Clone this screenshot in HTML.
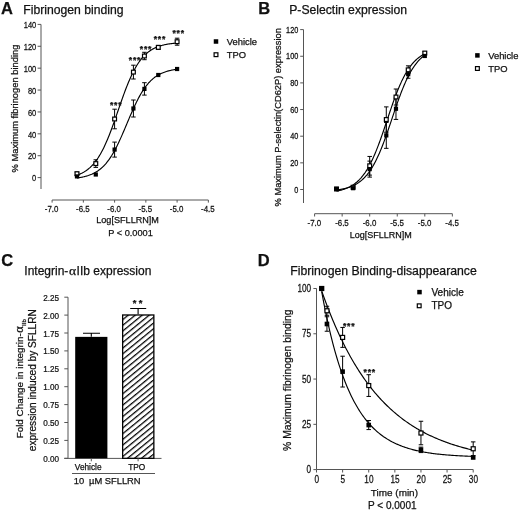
<!DOCTYPE html>
<html><head><meta charset="utf-8"><style>
html,body{margin:0;padding:0;background:#fff;}
svg{display:block;filter:blur(0.4px);}
text{font-family:"Liberation Sans",sans-serif;fill:#111;stroke:#111;stroke-width:0.25px;}
</style></head><body>
<svg width="520" height="513" viewBox="0 0 520 513">
<rect width="520" height="513" fill="#fff"/>
<text x="1.00" y="14.20" font-size="16.5" text-anchor="start" font-weight="bold" >A</text>
<text x="23.30" y="13.80" font-size="12.2" text-anchor="start" font-weight="normal" >Fibrinogen binding</text>
<line x1="41.00" y1="24.40" x2="41.00" y2="189.00" stroke="#555" stroke-width="1" fill="none"/>
<line x1="37.60" y1="177.60" x2="41.00" y2="177.60" stroke="#555" stroke-width="1" fill="none"/>
<text transform="translate(36.30,181.35) scale(0.82,1)" font-size="9.2" text-anchor="end">0</text>
<line x1="37.60" y1="155.71" x2="41.00" y2="155.71" stroke="#555" stroke-width="1" fill="none"/>
<text transform="translate(36.30,159.46) scale(0.82,1)" font-size="9.2" text-anchor="end">20</text>
<line x1="37.60" y1="133.83" x2="41.00" y2="133.83" stroke="#555" stroke-width="1" fill="none"/>
<text transform="translate(36.30,137.58) scale(0.82,1)" font-size="9.2" text-anchor="end">40</text>
<line x1="37.60" y1="111.94" x2="41.00" y2="111.94" stroke="#555" stroke-width="1" fill="none"/>
<text transform="translate(36.30,115.69) scale(0.82,1)" font-size="9.2" text-anchor="end">60</text>
<line x1="37.60" y1="90.06" x2="41.00" y2="90.06" stroke="#555" stroke-width="1" fill="none"/>
<text transform="translate(36.30,93.81) scale(0.82,1)" font-size="9.2" text-anchor="end">80</text>
<line x1="37.60" y1="68.17" x2="41.00" y2="68.17" stroke="#555" stroke-width="1" fill="none"/>
<text transform="translate(36.30,71.92) scale(0.82,1)" font-size="9.2" text-anchor="end">100</text>
<line x1="37.60" y1="46.28" x2="41.00" y2="46.28" stroke="#555" stroke-width="1" fill="none"/>
<text transform="translate(36.30,50.03) scale(0.82,1)" font-size="9.2" text-anchor="end">120</text>
<line x1="37.60" y1="24.40" x2="41.00" y2="24.40" stroke="#555" stroke-width="1" fill="none"/>
<text transform="translate(36.30,28.15) scale(0.82,1)" font-size="9.2" text-anchor="end">140</text>
<line x1="52.10" y1="200.00" x2="208.35" y2="200.00" stroke="#555" stroke-width="1" fill="none"/>
<line x1="52.10" y1="200.00" x2="52.10" y2="202.60" stroke="#555" stroke-width="1" fill="none"/>
<text transform="translate(51.60,211.80) scale(0.86,1)" font-size="9.2" text-anchor="middle">-7.0</text>
<line x1="83.35" y1="200.00" x2="83.35" y2="202.60" stroke="#555" stroke-width="1" fill="none"/>
<text transform="translate(82.85,211.80) scale(0.86,1)" font-size="9.2" text-anchor="middle">-6.5</text>
<line x1="114.60" y1="200.00" x2="114.60" y2="202.60" stroke="#555" stroke-width="1" fill="none"/>
<text transform="translate(114.10,211.80) scale(0.86,1)" font-size="9.2" text-anchor="middle">-6.0</text>
<line x1="145.85" y1="200.00" x2="145.85" y2="202.60" stroke="#555" stroke-width="1" fill="none"/>
<text transform="translate(145.35,211.80) scale(0.86,1)" font-size="9.2" text-anchor="middle">-5.5</text>
<line x1="177.10" y1="200.00" x2="177.10" y2="202.60" stroke="#555" stroke-width="1" fill="none"/>
<text transform="translate(176.60,211.80) scale(0.86,1)" font-size="9.2" text-anchor="middle">-5.0</text>
<line x1="208.35" y1="200.00" x2="208.35" y2="202.60" stroke="#555" stroke-width="1" fill="none"/>
<text transform="translate(207.85,211.80) scale(0.86,1)" font-size="9.2" text-anchor="middle">-4.5</text>
<text x="127.60" y="223.20" font-size="9.1" text-anchor="middle" font-weight="normal" >Log[SFLLRN]M</text>
<text x="130.50" y="236.30" font-size="9.2" text-anchor="middle" font-weight="normal" >P &lt; 0.0001</text>
<text transform="translate(18.10,108.50) rotate(-90)" font-size="9.35" text-anchor="middle">% Maximum fibrinogen binding</text>
<polyline points="76.97,177.97 77.64,177.88 78.31,177.78 78.98,177.68 79.64,177.57 80.31,177.46 80.98,177.34 81.65,177.22 82.31,177.08 82.98,176.94 83.65,176.80 84.32,176.64 84.98,176.48 85.65,176.30 86.32,176.12 86.99,175.93 87.66,175.72 88.32,175.51 88.99,175.28 89.66,175.04 90.33,174.79 90.99,174.53 91.66,174.25 92.33,173.95 92.99,173.64 93.66,173.32 94.33,172.98 95.00,172.62 95.66,172.24 96.33,171.84 97.00,171.42 97.67,170.99 98.33,170.53 99.00,170.04 99.67,169.54 100.34,169.01 101.00,168.45 101.67,167.87 102.34,167.27 103.01,166.63 103.67,165.97 104.34,165.28 105.01,164.55 105.68,163.80 106.34,163.02 107.01,162.20 107.68,161.35 108.35,160.47 109.01,159.56 109.68,158.61 110.35,157.62 111.02,156.60 111.69,155.55 112.35,154.46 113.02,153.34 113.69,152.18 114.36,150.99 115.02,149.77 115.69,148.51 116.36,147.22 117.03,145.90 117.69,144.55 118.36,143.17 119.03,141.76 119.69,140.32 120.36,138.87 121.03,137.38 121.70,135.88 122.36,134.36 123.03,132.82 123.70,131.27 124.37,129.71 125.03,128.13 125.70,126.55 126.37,124.97 127.04,123.38 127.70,121.79 128.37,120.21 129.04,118.63 129.71,117.06 130.37,115.50 131.04,113.95 131.71,112.42 132.38,110.90 133.04,109.41 133.71,107.93 134.38,106.48 135.05,105.06 135.72,103.66 136.38,102.29 137.05,100.95 137.72,99.64 138.38,98.36 139.05,97.11 139.72,95.90 140.39,94.72 141.06,93.57 141.72,92.46 142.39,91.38 143.06,90.34 143.73,89.34 144.39,88.36 145.06,87.43 145.73,86.52 146.40,85.65 147.06,84.81 147.73,84.01 148.40,83.23 149.06,82.49 149.73,81.78 150.40,81.10 151.07,80.44 151.74,79.82 152.40,79.22 153.07,78.65 153.74,78.10 154.40,77.58 155.07,77.08 155.74,76.61 156.41,76.16 157.07,75.73 157.74,75.32 158.41,74.93 159.08,74.55 159.75,74.20 160.41,73.86 161.08,73.54 161.75,73.24 162.41,72.95 163.08,72.68 163.75,72.42 164.42,72.17 165.09,71.93 165.75,71.71 166.42,71.50 167.09,71.30 167.75,71.11 168.42,70.93 169.09,70.76 169.76,70.60 170.43,70.45 171.09,70.30 171.76,70.16 172.43,70.03 173.10,69.91 173.76,69.79 174.43,69.68 175.10,69.58 175.77,69.48 176.43,69.39 177.10,69.30" stroke="#000" stroke-width="1.15" fill="none"/>
<polyline points="76.97,175.14 77.64,174.91 78.31,174.66 78.98,174.41 79.64,174.13 80.31,173.85 80.98,173.54 81.65,173.23 82.31,172.89 82.98,172.54 83.65,172.17 84.32,171.78 84.98,171.37 85.65,170.94 86.32,170.48 86.99,170.01 87.66,169.51 88.32,168.98 88.99,168.43 89.66,167.86 90.33,167.25 90.99,166.62 91.66,165.96 92.33,165.26 92.99,164.54 93.66,163.78 94.33,162.98 95.00,162.16 95.66,161.29 96.33,160.39 97.00,159.46 97.67,158.48 98.33,157.47 99.00,156.41 99.67,155.32 100.34,154.18 101.00,153.01 101.67,151.79 102.34,150.53 103.01,149.22 103.67,147.88 104.34,146.49 105.01,145.07 105.68,143.60 106.34,142.09 107.01,140.54 107.68,138.96 108.35,137.33 109.01,135.67 109.68,133.98 110.35,132.25 111.02,130.49 111.69,128.71 112.35,126.90 113.02,125.06 113.69,123.20 114.36,121.32 115.02,119.43 115.69,117.52 116.36,115.60 117.03,113.67 117.69,111.74 118.36,109.81 119.03,107.88 119.69,105.95 120.36,104.03 121.03,102.12 121.70,100.22 122.36,98.34 123.03,96.48 123.70,94.64 124.37,92.83 125.03,91.04 125.70,89.28 126.37,87.55 127.04,85.85 127.70,84.19 128.37,82.57 129.04,80.98 129.71,79.42 130.37,77.91 131.04,76.44 131.71,75.01 132.38,73.62 133.04,72.27 133.71,70.97 134.38,69.70 135.05,68.48 135.72,67.30 136.38,66.16 137.05,65.07 137.72,64.01 138.38,62.99 139.05,62.01 139.72,61.07 140.39,60.17 141.06,59.30 141.72,58.47 142.39,57.68 143.06,56.92 143.73,56.19 144.39,55.49 145.06,54.82 145.73,54.19 146.40,53.58 147.06,53.00 147.73,52.45 148.40,51.92 149.06,51.42 149.73,50.94 150.40,50.49 151.07,50.06 151.74,49.64 152.40,49.25 153.07,48.88 153.74,48.53 154.40,48.19 155.07,47.87 155.74,47.57 156.41,47.28 157.07,47.01 157.74,46.75 158.41,46.50 159.08,46.27 159.75,46.04 160.41,45.83 161.08,45.64 161.75,45.45 162.41,45.27 163.08,45.10 163.75,44.94 164.42,44.79 165.09,44.64 165.75,44.50 166.42,44.37 167.09,44.25 167.75,44.14 168.42,44.03 169.09,43.92 169.76,43.82 170.43,43.73 171.09,43.64 171.76,43.56 172.43,43.48 173.10,43.41 173.76,43.34 174.43,43.27 175.10,43.21 175.77,43.15 176.43,43.09 177.10,43.04" stroke="#000" stroke-width="1.15" fill="none"/>
<path d="M114.60 142.10V157.10M112.35 142.10H116.85M112.35 157.10H116.85" stroke="#000" stroke-width="1" fill="none"/>
<path d="M133.41 100.00V117.00M131.16 100.00H135.66M131.16 117.00H135.66" stroke="#000" stroke-width="1" fill="none"/>
<path d="M144.41 82.70V95.10M142.16 82.70H146.66M142.16 95.10H146.66" stroke="#000" stroke-width="1" fill="none"/>
<path d="M76.97 172.10V175.30M74.72 172.10H79.22M74.72 175.30H79.22" stroke="#000" stroke-width="1" fill="none"/>
<path d="M95.79 159.80V167.40M93.54 159.80H98.04M93.54 167.40H98.04" stroke="#000" stroke-width="1" fill="none"/>
<path d="M114.60 109.20V128.80M112.35 109.20H116.85M112.35 128.80H116.85" stroke="#000" stroke-width="1" fill="none"/>
<path d="M133.41 65.20V79.00M131.16 65.20H135.66M131.16 79.00H135.66" stroke="#000" stroke-width="1" fill="none"/>
<path d="M144.41 52.30V59.70M142.16 52.30H146.66M142.16 59.70H146.66" stroke="#000" stroke-width="1" fill="none"/>
<path d="M158.29 45.40V49.40M156.04 45.40H160.54M156.04 49.40H160.54" stroke="#000" stroke-width="1" fill="none"/>
<path d="M177.10 38.20V45.20M174.85 38.20H179.35M174.85 45.20H179.35" stroke="#000" stroke-width="1" fill="none"/>
<rect x="75.07" y="171.80" width="3.80" height="3.80" fill="#fff" stroke="#000" stroke-width="1.2"/>
<rect x="93.89" y="161.70" width="3.80" height="3.80" fill="#fff" stroke="#000" stroke-width="1.2"/>
<rect x="112.70" y="117.10" width="3.80" height="3.80" fill="#fff" stroke="#000" stroke-width="1.2"/>
<rect x="131.51" y="70.20" width="3.80" height="3.80" fill="#fff" stroke="#000" stroke-width="1.2"/>
<rect x="142.51" y="54.10" width="3.80" height="3.80" fill="#fff" stroke="#000" stroke-width="1.2"/>
<rect x="156.39" y="45.50" width="3.80" height="3.80" fill="#fff" stroke="#000" stroke-width="1.2"/>
<rect x="175.20" y="39.80" width="3.80" height="3.80" fill="#fff" stroke="#000" stroke-width="1.2"/>
<rect x="74.87" y="174.30" width="4.2" height="4.2" fill="#000"/>
<rect x="93.69" y="172.40" width="4.2" height="4.2" fill="#000"/>
<rect x="112.50" y="147.50" width="4.2" height="4.2" fill="#000"/>
<rect x="131.31" y="106.40" width="4.2" height="4.2" fill="#000"/>
<rect x="142.31" y="86.80" width="4.2" height="4.2" fill="#000"/>
<rect x="156.19" y="72.90" width="4.2" height="4.2" fill="#000"/>
<rect x="175.00" y="66.90" width="4.2" height="4.2" fill="#000"/>
<text x="116.20" y="108.40" font-size="8.6" text-anchor="middle" font-weight="bold" letter-spacing="0.8">***</text>
<text x="135.01" y="62.60" font-size="8.6" text-anchor="middle" font-weight="bold" letter-spacing="0.8">***</text>
<text x="146.01" y="51.70" font-size="8.6" text-anchor="middle" font-weight="bold" letter-spacing="0.8">***</text>
<text x="159.89" y="42.10" font-size="8.6" text-anchor="middle" font-weight="bold" letter-spacing="0.8">***</text>
<text x="178.70" y="35.60" font-size="8.6" text-anchor="middle" font-weight="bold" letter-spacing="0.8">***</text>
<rect x="213.75" y="39.25" width="4.5" height="4.5" fill="#000"/>
<rect x="214.10" y="52.80" width="3.80" height="3.80" fill="#fff" stroke="#000" stroke-width="1.2"/>
<text x="226.80" y="45.40" font-size="9.4" text-anchor="start" font-weight="normal" >Vehicle</text>
<text x="226.80" y="57.80" font-size="9.4" text-anchor="start" font-weight="normal" >TPO</text>
<text x="258.20" y="14.40" font-size="16.5" text-anchor="start" font-weight="bold" >B</text>
<text x="289.20" y="13.80" font-size="12.2" text-anchor="start" font-weight="normal" >P-Selectin expression</text>
<line x1="303.50" y1="29.60" x2="303.50" y2="203.00" stroke="#555" stroke-width="1" fill="none"/>
<line x1="300.20" y1="189.50" x2="303.50" y2="189.50" stroke="#555" stroke-width="1" fill="none"/>
<text transform="translate(298.30,192.60) scale(0.87,1)" font-size="8.4" text-anchor="end">0</text>
<line x1="300.20" y1="162.85" x2="303.50" y2="162.85" stroke="#555" stroke-width="1" fill="none"/>
<text transform="translate(298.30,165.95) scale(0.87,1)" font-size="8.4" text-anchor="end">20</text>
<line x1="300.20" y1="136.20" x2="303.50" y2="136.20" stroke="#555" stroke-width="1" fill="none"/>
<text transform="translate(298.30,139.30) scale(0.87,1)" font-size="8.4" text-anchor="end">40</text>
<line x1="300.20" y1="109.55" x2="303.50" y2="109.55" stroke="#555" stroke-width="1" fill="none"/>
<text transform="translate(298.30,112.65) scale(0.87,1)" font-size="8.4" text-anchor="end">60</text>
<line x1="300.20" y1="82.90" x2="303.50" y2="82.90" stroke="#555" stroke-width="1" fill="none"/>
<text transform="translate(298.30,86.00) scale(0.87,1)" font-size="8.4" text-anchor="end">80</text>
<line x1="300.20" y1="56.25" x2="303.50" y2="56.25" stroke="#555" stroke-width="1" fill="none"/>
<text transform="translate(298.30,59.35) scale(0.87,1)" font-size="8.4" text-anchor="end">100</text>
<line x1="300.20" y1="29.60" x2="303.50" y2="29.60" stroke="#555" stroke-width="1" fill="none"/>
<text transform="translate(298.30,32.70) scale(0.87,1)" font-size="8.4" text-anchor="end">120</text>
<line x1="314.60" y1="213.70" x2="452.35" y2="213.70" stroke="#555" stroke-width="1" fill="none"/>
<line x1="314.60" y1="213.70" x2="314.60" y2="216.50" stroke="#555" stroke-width="1" fill="none"/>
<text transform="translate(314.40,226.30) scale(0.86,1)" font-size="9.2" text-anchor="middle">-7.0</text>
<line x1="342.15" y1="213.70" x2="342.15" y2="216.50" stroke="#555" stroke-width="1" fill="none"/>
<text transform="translate(341.95,226.30) scale(0.86,1)" font-size="9.2" text-anchor="middle">-6.5</text>
<line x1="369.70" y1="213.70" x2="369.70" y2="216.50" stroke="#555" stroke-width="1" fill="none"/>
<text transform="translate(369.50,226.30) scale(0.86,1)" font-size="9.2" text-anchor="middle">-6.0</text>
<line x1="397.25" y1="213.70" x2="397.25" y2="216.50" stroke="#555" stroke-width="1" fill="none"/>
<text transform="translate(397.05,226.30) scale(0.86,1)" font-size="9.2" text-anchor="middle">-5.5</text>
<line x1="424.80" y1="213.70" x2="424.80" y2="216.50" stroke="#555" stroke-width="1" fill="none"/>
<text transform="translate(424.60,226.30) scale(0.86,1)" font-size="9.2" text-anchor="middle">-5.0</text>
<line x1="452.35" y1="213.70" x2="452.35" y2="216.50" stroke="#555" stroke-width="1" fill="none"/>
<text transform="translate(452.15,226.30) scale(0.86,1)" font-size="9.2" text-anchor="middle">-4.5</text>
<text x="380.80" y="237.70" font-size="9" text-anchor="middle" font-weight="normal" >Log[SFLLRN]M</text>
<text transform="translate(281.10,117.30) rotate(-90)" font-size="9.3" text-anchor="middle">% Maximum P-selectin(CD62P) expression</text>
<polyline points="336.53,190.00 337.12,189.92 337.71,189.84 338.30,189.76 338.88,189.67 339.47,189.58 340.06,189.48 340.65,189.38 341.24,189.28 341.83,189.17 342.41,189.05 343.00,188.93 343.59,188.80 344.18,188.67 344.77,188.53 345.36,188.38 345.95,188.23 346.53,188.07 347.12,187.90 347.71,187.73 348.30,187.54 348.89,187.35 349.48,187.15 350.06,186.94 350.65,186.72 351.24,186.49 351.83,186.25 352.42,186.00 353.01,185.74 353.60,185.46 354.18,185.18 354.77,184.88 355.36,184.56 355.95,184.24 356.54,183.90 357.13,183.54 357.71,183.17 358.30,182.78 358.89,182.38 359.48,181.95 360.07,181.51 360.66,181.05 361.25,180.58 361.83,180.08 362.42,179.56 363.01,179.02 363.60,178.46 364.19,177.88 364.78,177.27 365.36,176.64 365.95,175.98 366.54,175.30 367.13,174.60 367.72,173.86 368.31,173.10 368.90,172.32 369.48,171.50 370.07,170.65 370.66,169.78 371.25,168.88 371.84,167.94 372.43,166.98 373.01,165.98 373.60,164.95 374.19,163.89 374.78,162.80 375.37,161.67 375.96,160.52 376.55,159.33 377.13,158.11 377.72,156.86 378.31,155.57 378.90,154.25 379.49,152.91 380.08,151.53 380.66,150.12 381.25,148.68 381.84,147.21 382.43,145.72 383.02,144.20 383.61,142.65 384.20,141.08 384.78,139.48 385.37,137.86 385.96,136.23 386.55,134.57 387.14,132.89 387.73,131.20 388.31,129.50 388.90,127.78 389.49,126.06 390.08,124.32 390.67,122.58 391.26,120.83 391.85,119.08 392.43,117.33 393.02,115.59 393.61,113.84 394.20,112.10 394.79,110.37 395.38,108.65 395.97,106.94 396.55,105.24 397.14,103.56 397.73,101.89 398.32,100.25 398.91,98.62 399.50,97.01 400.08,95.43 400.67,93.87 401.26,92.33 401.85,90.82 402.44,89.34 403.03,87.89 403.62,86.47 404.20,85.07 404.79,83.71 405.38,82.38 405.97,81.08 406.56,79.81 407.15,78.57 407.73,77.37 408.32,76.19 408.91,75.05 409.50,73.94 410.09,72.87 410.68,71.82 411.27,70.81 411.85,69.83 412.44,68.88 413.03,67.96 413.62,67.07 414.21,66.21 414.80,65.38 415.38,64.58 415.97,63.81 416.56,63.06 417.15,62.34 417.74,61.65 418.33,60.98 418.92,60.34 419.50,59.72 420.09,59.12 420.68,58.55 421.27,58.00 421.86,57.47 422.45,56.97 423.03,56.48 423.62,56.01 424.21,55.56 424.80,55.13" stroke="#000" stroke-width="1.15" fill="none"/>
<polyline points="336.53,191.14 337.12,191.03 337.71,190.91 338.30,190.79 338.88,190.66 339.47,190.52 340.06,190.38 340.65,190.23 341.24,190.08 341.83,189.91 342.41,189.74 343.00,189.57 343.59,189.38 344.18,189.19 344.77,188.98 345.36,188.77 345.95,188.55 346.53,188.31 347.12,188.07 347.71,187.81 348.30,187.55 348.89,187.27 349.48,186.98 350.06,186.67 350.65,186.35 351.24,186.02 351.83,185.67 352.42,185.31 353.01,184.93 353.60,184.54 354.18,184.13 354.77,183.70 355.36,183.25 355.95,182.78 356.54,182.30 357.13,181.79 357.71,181.26 358.30,180.71 358.89,180.14 359.48,179.55 360.07,178.93 360.66,178.29 361.25,177.62 361.83,176.93 362.42,176.21 363.01,175.47 363.60,174.69 364.19,173.89 364.78,173.06 365.36,172.20 365.95,171.31 366.54,170.39 367.13,169.44 367.72,168.46 368.31,167.45 368.90,166.40 369.48,165.32 370.07,164.22 370.66,163.07 371.25,161.90 371.84,160.69 372.43,159.45 373.01,158.18 373.60,156.88 374.19,155.54 374.78,154.17 375.37,152.77 375.96,151.35 376.55,149.89 377.13,148.40 377.72,146.89 378.31,145.35 378.90,143.78 379.49,142.19 380.08,140.58 380.66,138.95 381.25,137.29 381.84,135.62 382.43,133.93 383.02,132.23 383.61,130.51 384.20,128.78 384.78,127.04 385.37,125.29 385.96,123.54 386.55,121.79 387.14,120.03 387.73,118.27 388.31,116.52 388.90,114.77 389.49,113.03 390.08,111.29 390.67,109.57 391.26,107.86 391.85,106.16 392.43,104.48 393.02,102.81 393.61,101.17 394.20,99.55 394.79,97.95 395.38,96.37 395.97,94.82 396.55,93.29 397.14,91.79 397.73,90.32 398.32,88.88 398.91,87.46 399.50,86.08 400.08,84.73 400.67,83.41 401.26,82.12 401.85,80.87 402.44,79.64 403.03,78.45 403.62,77.29 404.20,76.17 404.79,75.08 405.38,74.02 405.97,72.99 406.56,71.99 407.15,71.02 407.73,70.09 408.32,69.19 408.91,68.31 409.50,67.47 410.09,66.65 410.68,65.86 411.27,65.11 411.85,64.37 412.44,63.67 413.03,62.99 413.62,62.34 414.21,61.71 414.80,61.10 415.38,60.52 415.97,59.96 416.56,59.42 417.15,58.90 417.74,58.41 418.33,57.93 418.92,57.48 419.50,57.04 420.09,56.62 420.68,56.22 421.27,55.83 421.86,55.46 422.45,55.10 423.03,54.77 423.62,54.44 424.21,54.13 424.80,53.83" stroke="#000" stroke-width="1.15" fill="none"/>
<path d="M369.70 161.12V177.11M367.45 161.12H371.95M367.45 177.11H371.95" stroke="#000" stroke-width="1" fill="none"/>
<path d="M386.29 122.48V148.33M384.04 122.48H388.54M384.04 148.33H388.54" stroke="#000" stroke-width="1" fill="none"/>
<path d="M395.98 98.09V119.41M393.73 98.09H398.23M393.73 119.41H398.23" stroke="#000" stroke-width="1" fill="none"/>
<path d="M408.21 70.24V78.24M405.96 70.24H410.46M405.96 78.24H410.46" stroke="#000" stroke-width="1" fill="none"/>
<path d="M369.70 156.45V175.11M367.45 156.45H371.95M367.45 175.11H371.95" stroke="#000" stroke-width="1" fill="none"/>
<path d="M386.29 106.89V132.20M384.04 106.89H388.54M384.04 132.20H388.54" stroke="#000" stroke-width="1" fill="none"/>
<path d="M395.98 89.03V105.02M393.73 89.03H398.23M393.73 105.02H398.23" stroke="#000" stroke-width="1" fill="none"/>
<path d="M408.21 65.84V73.84M405.96 65.84H410.46M405.96 73.84H410.46" stroke="#000" stroke-width="1" fill="none"/>
<path d="M424.80 51.72V54.38M422.55 51.72H427.05M422.55 54.38H427.05" stroke="#000" stroke-width="1" fill="none"/>
<rect x="334.63" y="187.07" width="3.80" height="3.80" fill="#fff" stroke="#000" stroke-width="1.2"/>
<rect x="351.21" y="185.33" width="3.80" height="3.80" fill="#fff" stroke="#000" stroke-width="1.2"/>
<rect x="367.80" y="163.88" width="3.80" height="3.80" fill="#fff" stroke="#000" stroke-width="1.2"/>
<rect x="384.39" y="117.64" width="3.80" height="3.80" fill="#fff" stroke="#000" stroke-width="1.2"/>
<rect x="394.08" y="95.12" width="3.80" height="3.80" fill="#fff" stroke="#000" stroke-width="1.2"/>
<rect x="406.31" y="67.94" width="3.80" height="3.80" fill="#fff" stroke="#000" stroke-width="1.2"/>
<rect x="422.90" y="51.15" width="3.80" height="3.80" fill="#fff" stroke="#000" stroke-width="1.2"/>
<rect x="334.43" y="186.87" width="4.2" height="4.2" fill="#000"/>
<rect x="351.01" y="186.07" width="4.2" height="4.2" fill="#000"/>
<rect x="367.60" y="167.01" width="4.2" height="4.2" fill="#000"/>
<rect x="384.19" y="133.30" width="4.2" height="4.2" fill="#000"/>
<rect x="393.88" y="106.65" width="4.2" height="4.2" fill="#000"/>
<rect x="406.11" y="72.14" width="4.2" height="4.2" fill="#000"/>
<rect x="422.70" y="53.88" width="4.2" height="4.2" fill="#000"/>
<rect x="475.15" y="53.15" width="4.5" height="4.5" fill="#000"/>
<rect x="475.50" y="66.60" width="3.80" height="3.80" fill="#fff" stroke="#000" stroke-width="1.2"/>
<text x="488.20" y="59.10" font-size="9.4" text-anchor="start" font-weight="normal" >Vehicle</text>
<text x="488.20" y="71.70" font-size="9.4" text-anchor="start" font-weight="normal" >TPO</text>
<text x="1.30" y="265.50" font-size="16.5" text-anchor="start" font-weight="bold" >C</text>
<text x="24.30" y="275.40" font-size="12" text-anchor="start" font-weight="normal" >Integrin-<tspan font-family="Liberation Serif" font-size="13.5" dx="0.6">α</tspan><tspan dx="0.6">IIb expression</tspan></text>
<line x1="68.00" y1="297.20" x2="68.00" y2="458.30" stroke="#555" stroke-width="1" fill="none"/>
<line x1="64.30" y1="458.30" x2="68.00" y2="458.30" stroke="#555" stroke-width="1" fill="none"/>
<text transform="translate(59.00,461.80) scale(0.83,1)" font-size="9.8" text-anchor="end">0.00</text>
<line x1="64.30" y1="440.40" x2="68.00" y2="440.40" stroke="#555" stroke-width="1" fill="none"/>
<text transform="translate(59.00,443.90) scale(0.83,1)" font-size="9.8" text-anchor="end">0.25</text>
<line x1="64.30" y1="422.50" x2="68.00" y2="422.50" stroke="#555" stroke-width="1" fill="none"/>
<text transform="translate(59.00,426.00) scale(0.83,1)" font-size="9.8" text-anchor="end">0.50</text>
<line x1="64.30" y1="404.60" x2="68.00" y2="404.60" stroke="#555" stroke-width="1" fill="none"/>
<text transform="translate(59.00,408.10) scale(0.83,1)" font-size="9.8" text-anchor="end">0.75</text>
<line x1="64.30" y1="386.70" x2="68.00" y2="386.70" stroke="#555" stroke-width="1" fill="none"/>
<text transform="translate(59.00,390.20) scale(0.83,1)" font-size="9.8" text-anchor="end">1.00</text>
<line x1="64.30" y1="368.80" x2="68.00" y2="368.80" stroke="#555" stroke-width="1" fill="none"/>
<text transform="translate(59.00,372.30) scale(0.83,1)" font-size="9.8" text-anchor="end">1.25</text>
<line x1="64.30" y1="350.90" x2="68.00" y2="350.90" stroke="#555" stroke-width="1" fill="none"/>
<text transform="translate(59.00,354.40) scale(0.83,1)" font-size="9.8" text-anchor="end">1.50</text>
<line x1="64.30" y1="333.00" x2="68.00" y2="333.00" stroke="#555" stroke-width="1" fill="none"/>
<text transform="translate(59.00,336.50) scale(0.83,1)" font-size="9.8" text-anchor="end">1.75</text>
<line x1="64.30" y1="315.10" x2="68.00" y2="315.10" stroke="#555" stroke-width="1" fill="none"/>
<text transform="translate(59.00,318.60) scale(0.83,1)" font-size="9.8" text-anchor="end">2.00</text>
<line x1="64.30" y1="297.20" x2="68.00" y2="297.20" stroke="#555" stroke-width="1" fill="none"/>
<text transform="translate(59.00,300.70) scale(0.83,1)" font-size="9.8" text-anchor="end">2.25</text>
<line x1="64.30" y1="458.40" x2="161.50" y2="458.40" stroke="#555" stroke-width="1" fill="none"/>
<rect x="75.2" y="336.87" width="32.2" height="121.43" fill="#000"/>
<defs><pattern id="h" patternUnits="userSpaceOnUse" width="10" height="4.42" patternTransform="translate(3.1 0) rotate(-39.2)"><rect width="10" height="4.42" fill="#fff"/><rect y="0" width="10" height="1.25" fill="#000"/></pattern></defs>
<rect x="122.65" y="314.98" width="31.2" height="143.32" fill="url(#h)" stroke="#000" stroke-width="1.3"/>
<path d="M91.3 333.3V336.8M83 333.3H100M138.1 308.5V314.3M130.2 308.5H146.2" stroke="#000" stroke-width="1.1"/>
<line x1="91.30" y1="458.30" x2="91.30" y2="461.30" stroke="#555" stroke-width="1" fill="none"/>
<line x1="138.10" y1="458.30" x2="138.10" y2="461.30" stroke="#555" stroke-width="1" fill="none"/>
<text x="137.60" y="305.70" font-size="9.4" text-anchor="middle" font-weight="bold" letter-spacing="2.2" dx="1.1">**</text>
<text x="88.20" y="469.80" font-size="8.3" text-anchor="middle" font-weight="normal" >Vehicle</text>
<text x="136.70" y="469.80" font-size="8.3" text-anchor="middle" font-weight="normal" >TPO</text>
<line x1="72.00" y1="473.50" x2="155.00" y2="473.50" stroke="#555" stroke-width="1" fill="none"/>
<text x="73.80" y="484.00" font-size="9.35" text-anchor="start" font-weight="normal" >10 <tspan dx="2.2">µ</tspan>M SFLLRN</text>
<text transform="translate(23.2,438.3) rotate(-90)" font-size="9.85">Fold Change in integrin-<tspan font-family="Liberation Serif" font-size="12.4" dx="0.5">α</tspan><tspan font-size="6" dx="0.3" dy="3">IIb</tspan></text>
<text transform="translate(36.00,380.20) rotate(-90)" font-size="10.1" text-anchor="middle">expression induced by SFLLRN</text>
<text x="257.80" y="265.70" font-size="16.5" text-anchor="start" font-weight="bold" >D</text>
<text x="290.20" y="274.90" font-size="12.25" text-anchor="start" font-weight="normal" >Fibrinogen Binding-disappearance</text>
<line x1="316.50" y1="288.50" x2="316.50" y2="469.50" stroke="#555" stroke-width="1" fill="none"/>
<line x1="313.40" y1="469.60" x2="316.50" y2="469.60" stroke="#555" stroke-width="1" fill="none"/>
<text transform="translate(311.20,473.30) scale(0.8,1)" font-size="10.3" text-anchor="end">0</text>
<line x1="313.40" y1="424.33" x2="316.50" y2="424.33" stroke="#555" stroke-width="1" fill="none"/>
<text transform="translate(311.20,428.03) scale(0.8,1)" font-size="10.3" text-anchor="end">25</text>
<line x1="313.40" y1="379.05" x2="316.50" y2="379.05" stroke="#555" stroke-width="1" fill="none"/>
<text transform="translate(311.20,382.75) scale(0.8,1)" font-size="10.3" text-anchor="end">50</text>
<line x1="313.40" y1="333.78" x2="316.50" y2="333.78" stroke="#555" stroke-width="1" fill="none"/>
<text transform="translate(311.20,337.48) scale(0.8,1)" font-size="10.3" text-anchor="end">75</text>
<line x1="313.40" y1="288.50" x2="316.50" y2="288.50" stroke="#555" stroke-width="1" fill="none"/>
<text transform="translate(311.20,292.20) scale(0.8,1)" font-size="10.3" text-anchor="end">100</text>
<line x1="316.50" y1="469.50" x2="473.19" y2="469.50" stroke="#555" stroke-width="1" fill="none"/>
<line x1="316.50" y1="469.50" x2="316.50" y2="472.50" stroke="#555" stroke-width="1" fill="none"/>
<text transform="translate(316.70,483.30) scale(0.8,1)" font-size="10.3" text-anchor="middle">0</text>
<line x1="342.62" y1="469.50" x2="342.62" y2="472.50" stroke="#555" stroke-width="1" fill="none"/>
<text transform="translate(342.81,483.30) scale(0.8,1)" font-size="10.3" text-anchor="middle">5</text>
<line x1="368.73" y1="469.50" x2="368.73" y2="472.50" stroke="#555" stroke-width="1" fill="none"/>
<text transform="translate(368.93,483.30) scale(0.8,1)" font-size="10.3" text-anchor="middle">10</text>
<line x1="394.85" y1="469.50" x2="394.85" y2="472.50" stroke="#555" stroke-width="1" fill="none"/>
<text transform="translate(395.05,483.30) scale(0.8,1)" font-size="10.3" text-anchor="middle">15</text>
<line x1="420.96" y1="469.50" x2="420.96" y2="472.50" stroke="#555" stroke-width="1" fill="none"/>
<text transform="translate(421.16,483.30) scale(0.8,1)" font-size="10.3" text-anchor="middle">20</text>
<line x1="447.07" y1="469.50" x2="447.07" y2="472.50" stroke="#555" stroke-width="1" fill="none"/>
<text transform="translate(447.27,483.30) scale(0.8,1)" font-size="10.3" text-anchor="middle">25</text>
<line x1="473.19" y1="469.50" x2="473.19" y2="472.50" stroke="#555" stroke-width="1" fill="none"/>
<text transform="translate(473.39,483.30) scale(0.8,1)" font-size="10.3" text-anchor="middle">30</text>
<text x="394.40" y="495.60" font-size="9.95" text-anchor="middle" font-weight="normal" >Time (min)</text>
<text x="392.30" y="509.30" font-size="10" text-anchor="middle" font-weight="normal" >P &lt; 0.0001</text>
<text transform="translate(291.00,380.20) rotate(-90)" font-size="10.35" text-anchor="middle">% Maximum fibrinogen binding</text>
<polyline points="321.72,291.74 322.73,297.26 323.74,302.60 324.75,307.76 325.76,312.75 326.77,317.57 327.78,322.23 328.79,326.73 329.80,331.09 330.81,335.30 331.82,339.37 332.83,343.30 333.84,347.10 334.85,350.78 335.86,354.33 336.87,357.77 337.88,361.09 338.89,364.30 339.90,367.40 340.91,370.40 341.92,373.30 342.93,376.11 343.94,378.82 344.95,381.44 345.96,383.97 346.97,386.42 347.98,388.78 348.99,391.07 350.00,393.28 351.01,395.42 352.02,397.48 353.03,399.48 354.04,401.41 355.05,403.28 356.06,405.08 357.07,406.83 358.08,408.51 359.08,410.14 360.09,411.72 361.10,413.24 362.11,414.72 363.12,416.14 364.13,417.51 365.14,418.84 366.15,420.13 367.16,421.37 368.17,422.57 369.18,423.74 370.19,424.86 371.20,425.94 372.21,426.99 373.22,428.01 374.23,428.99 375.24,429.94 376.25,430.85 377.26,431.74 378.27,432.59 379.28,433.42 380.29,434.22 381.30,434.99 382.31,435.74 383.32,436.47 384.33,437.16 385.34,437.84 386.35,438.49 387.36,439.12 388.37,439.73 389.38,440.32 390.39,440.89 391.40,441.44 392.41,441.98 393.42,442.49 394.43,442.99 395.44,443.47 396.45,443.94 397.46,444.39 398.47,444.82 399.48,445.24 400.49,445.65 401.50,446.04 402.51,446.42 403.52,446.79 404.52,447.14 405.53,447.48 406.54,447.81 407.55,448.14 408.56,448.45 409.57,448.74 410.58,449.03 411.59,449.31 412.60,449.58 413.61,449.85 414.62,450.10 415.63,450.34 416.64,450.58 417.65,450.81 418.66,451.03 419.67,451.24 420.68,451.45 421.69,451.65 422.70,451.84 423.71,452.03 424.72,452.21 425.73,452.38 426.74,452.55 427.75,452.71 428.76,452.87 429.77,453.02 430.78,453.17 431.79,453.31 432.80,453.45 433.81,453.58 434.82,453.71 435.83,453.83 436.84,453.95 437.85,454.07 438.86,454.18 439.87,454.29 440.88,454.39 441.89,454.49 442.90,454.59 443.91,454.69 444.92,454.78 445.93,454.87 446.94,454.95 447.95,455.03 448.96,455.11 449.97,455.19 450.97,455.27 451.98,455.34 452.99,455.41 454.00,455.48 455.01,455.54 456.02,455.60 457.03,455.66 458.04,455.72 459.05,455.78 460.06,455.84 461.07,455.89 462.08,455.94 463.09,455.99 464.10,456.04 465.11,456.08 466.12,456.13 467.13,456.17 468.14,456.21 469.15,456.26 470.16,456.29 471.17,456.33 472.18,456.37 473.19,456.40" stroke="#000" stroke-width="1.15" fill="none"/>
<polyline points="321.72,290.97 322.73,293.85 323.74,296.69 324.75,299.48 325.76,302.22 326.77,304.91 327.78,307.56 328.79,310.17 329.80,312.73 330.81,315.26 331.82,317.73 332.83,320.17 333.84,322.57 334.85,324.93 335.86,327.24 336.87,329.52 337.88,331.76 338.89,333.97 339.90,336.14 340.91,338.27 341.92,340.36 342.93,342.42 343.94,344.45 344.95,346.44 345.96,348.40 346.97,350.33 347.98,352.22 348.99,354.09 350.00,355.92 351.01,357.72 352.02,359.49 353.03,361.23 354.04,362.95 355.05,364.63 356.06,366.29 357.07,367.92 358.08,369.52 359.08,371.09 360.09,372.64 361.10,374.17 362.11,375.66 363.12,377.14 364.13,378.59 365.14,380.01 366.15,381.41 367.16,382.79 368.17,384.14 369.18,385.47 370.19,386.78 371.20,388.07 372.21,389.34 373.22,390.58 374.23,391.81 375.24,393.01 376.25,394.19 377.26,395.36 378.27,396.50 379.28,397.63 380.29,398.74 381.30,399.82 382.31,400.90 383.32,401.95 384.33,402.98 385.34,404.00 386.35,405.00 387.36,405.99 388.37,406.95 389.38,407.91 390.39,408.84 391.40,409.76 392.41,410.67 393.42,411.56 394.43,412.43 395.44,413.29 396.45,414.14 397.46,414.97 398.47,415.79 399.48,416.59 400.49,417.38 401.50,418.16 402.51,418.93 403.52,419.68 404.52,420.42 405.53,421.15 406.54,421.86 407.55,422.57 408.56,423.26 409.57,423.94 410.58,424.61 411.59,425.26 412.60,425.91 413.61,426.55 414.62,427.17 415.63,427.79 416.64,428.39 417.65,428.99 418.66,429.57 419.67,430.15 420.68,430.71 421.69,431.27 422.70,431.82 423.71,432.35 424.72,432.88 425.73,433.40 426.74,433.91 427.75,434.42 428.76,434.91 429.77,435.40 430.78,435.87 431.79,436.34 432.80,436.81 433.81,437.26 434.82,437.71 435.83,438.15 436.84,438.58 437.85,439.00 438.86,439.42 439.87,439.83 440.88,440.24 441.89,440.64 442.90,441.03 443.91,441.41 444.92,441.79 445.93,442.16 446.94,442.53 447.95,442.88 448.96,443.24 449.97,443.59 450.97,443.93 451.98,444.26 452.99,444.59 454.00,444.92 455.01,445.24 456.02,445.55 457.03,445.86 458.04,446.16 459.05,446.46 460.06,446.76 461.07,447.05 462.08,447.33 463.09,447.61 464.10,447.88 465.11,448.15 466.12,448.42 467.13,448.68 468.14,448.94 469.15,449.19 470.16,449.44 471.17,449.68 472.18,449.92 473.19,450.16" stroke="#000" stroke-width="1.15" fill="none"/>
<path d="M326.95 316.75V331.24M324.70 316.75H329.20M324.70 331.24H329.20" stroke="#000" stroke-width="1" fill="none"/>
<path d="M342.62 356.23V387.02M340.37 356.23H344.87M340.37 387.02H344.87" stroke="#000" stroke-width="1" fill="none"/>
<path d="M368.73 420.52V429.58M366.48 420.52H370.98M366.48 429.58H370.98" stroke="#000" stroke-width="1" fill="none"/>
<path d="M420.96 447.14V452.58M418.71 447.14H423.21M418.71 452.58H423.21" stroke="#000" stroke-width="1" fill="none"/>
<path d="M326.95 306.25V315.30M324.70 306.25H329.20M324.70 315.30H329.20" stroke="#000" stroke-width="1" fill="none"/>
<path d="M342.62 327.44V347.36M340.37 327.44H344.87M340.37 347.36H344.87" stroke="#000" stroke-width="1" fill="none"/>
<path d="M368.73 374.70V396.44M366.48 374.70H370.98M366.48 396.44H370.98" stroke="#000" stroke-width="1" fill="none"/>
<path d="M420.96 421.25V444.79M418.71 421.25H423.21M418.71 444.79H423.21" stroke="#000" stroke-width="1" fill="none"/>
<path d="M473.19 441.89V455.66M470.94 441.89H475.44M470.94 455.66H475.44" stroke="#000" stroke-width="1" fill="none"/>
<rect x="319.72" y="286.50" width="4.00" height="4.00" fill="#fff" stroke="#000" stroke-width="1.2"/>
<rect x="324.95" y="308.78" width="4.00" height="4.00" fill="#fff" stroke="#000" stroke-width="1.2"/>
<rect x="340.62" y="335.40" width="4.00" height="4.00" fill="#fff" stroke="#000" stroke-width="1.2"/>
<rect x="366.73" y="383.57" width="4.00" height="4.00" fill="#fff" stroke="#000" stroke-width="1.2"/>
<rect x="418.96" y="431.02" width="4.00" height="4.00" fill="#fff" stroke="#000" stroke-width="1.2"/>
<rect x="471.19" y="446.77" width="4.00" height="4.00" fill="#fff" stroke="#000" stroke-width="1.2"/>
<rect x="319.42" y="286.20" width="4.6" height="4.6" fill="#000"/>
<rect x="324.65" y="321.70" width="4.6" height="4.6" fill="#000"/>
<rect x="340.31" y="369.32" width="4.6" height="4.6" fill="#000"/>
<rect x="366.43" y="422.75" width="4.6" height="4.6" fill="#000"/>
<rect x="418.66" y="447.56" width="4.6" height="4.6" fill="#000"/>
<rect x="470.89" y="455.17" width="4.6" height="4.6" fill="#000"/>
<text x="349.12" y="328.50" font-size="8.6" text-anchor="middle" font-weight="bold" letter-spacing="0.8">***</text>
<text x="369.73" y="375.20" font-size="8.6" text-anchor="middle" font-weight="bold" letter-spacing="0.8">***</text>
<rect x="417.25" y="289.85" width="4.5" height="4.5" fill="#000"/>
<rect x="417.30" y="303.90" width="3.80" height="3.80" fill="#fff" stroke="#000" stroke-width="1.2"/>
<text x="431.50" y="295.50" font-size="10" text-anchor="start" font-weight="normal" >Vehicle</text>
<text x="431.50" y="309.00" font-size="10" text-anchor="start" font-weight="normal" >TPO</text>
</svg></body></html>
